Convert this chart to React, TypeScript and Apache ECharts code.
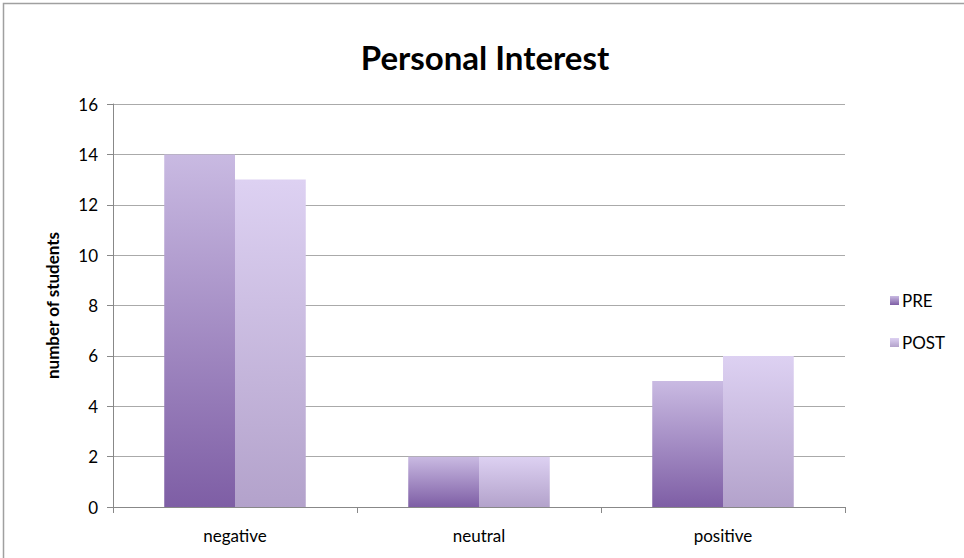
import React, { useEffect, useRef } from "react";
import * as echarts from "echarts";

const categories = ["negative", "neutral", "positive"];
const preValues = [14, 2, 5];
const postValues = [13, 2, 6];
const yTicks = { min: 0, max: 16, interval: 2 };

const FONT = "Lato, 'Open Sans', sans-serif";

export default function App() {
  const ref = useRef<HTMLDivElement>(null);
  useEffect(() => {
    if (!ref.current) return;
    const chart = echarts.init(ref.current, null, { renderer: "svg" });
    const grad = (top: string, bottom: string) =>
      new echarts.graphic.LinearGradient(0, 0, 0, 1, [
        { offset: 0, color: top },
        { offset: 1, color: bottom },
      ]);
    chart.setOption({
      animation: false,
      backgroundColor: "#ffffff",
      title: {
        text: "Personal Interest",
        left: 480,
        textAlign: "center",
        top: 35,
        textStyle: { fontFamily: FONT, fontSize: 33, fontWeight: "bold", color: "#000" },
      },
      graphic: [
        {
          type: "rect",
          shape: { x: 3.5, y: 3.5, width: 1000, height: 1000 },
          style: { fill: "none", stroke: "#a0a0a0", lineWidth: 1.5 },
          silent: true,
        },
      ],
      legend: {
        orient: "vertical",
        left: 885,
        top: 287,
        itemWidth: 9,
        itemHeight: 9,
        itemGap: 25,
        icon: "rect",
        textStyle: { fontFamily: FONT, fontSize: 17, color: "#000", padding: [0, 0, 0, -2] },
        data: ["PRE", "POST"],
      },
      grid: { left: 113, right: 119, top: 104, bottom: 51, containLabel: false },
      xAxis: {
        type: "category",
        data: categories,
        axisLine: { lineStyle: { color: "#888", width: 1 } },
        axisTick: { show: true, length: 6, alignWithLabel: false, lineStyle: { color: "#888" } },
        axisLabel: { fontFamily: FONT, fontSize: 17, color: "#000", margin: 20 },
      },
      yAxis: {
        type: "value",
        min: yTicks.min,
        max: yTicks.max,
        interval: yTicks.interval,
        name: "number of students",
        nameLocation: "middle",
        nameGap: 52,
        nameTextStyle: { fontFamily: FONT, fontSize: 17, fontWeight: "bold", color: "#000" },
        axisLine: { show: true, lineStyle: { color: "#888", width: 1 } },
        axisTick: { show: true, length: 6, lineStyle: { color: "#888" } },
        axisLabel: { fontFamily: FONT, fontSize: 17, color: "#000", margin: 15 },
        splitLine: { show: true, lineStyle: { color: "#aaaaaa", width: 1.2 } },
      },
      series: [
        {
          name: "PRE",
          type: "bar",
          data: preValues,
          barGap: "0%",
          barCategoryGap: "42%",
          itemStyle: { color: grad("#c9bae2", "#7e5ea5") },
        },
        {
          name: "POST",
          type: "bar",
          data: postValues,
          barGap: "0%",
          barCategoryGap: "42%",
          itemStyle: { color: grad("#ddd1f2", "#b3a2cb") },
        },
      ],
    });
    return () => chart.dispose();
  }, []);
  return <div ref={ref} style={{ width: 964, height: 558, position: "absolute", left: 0, top: 0 }} />;
}
